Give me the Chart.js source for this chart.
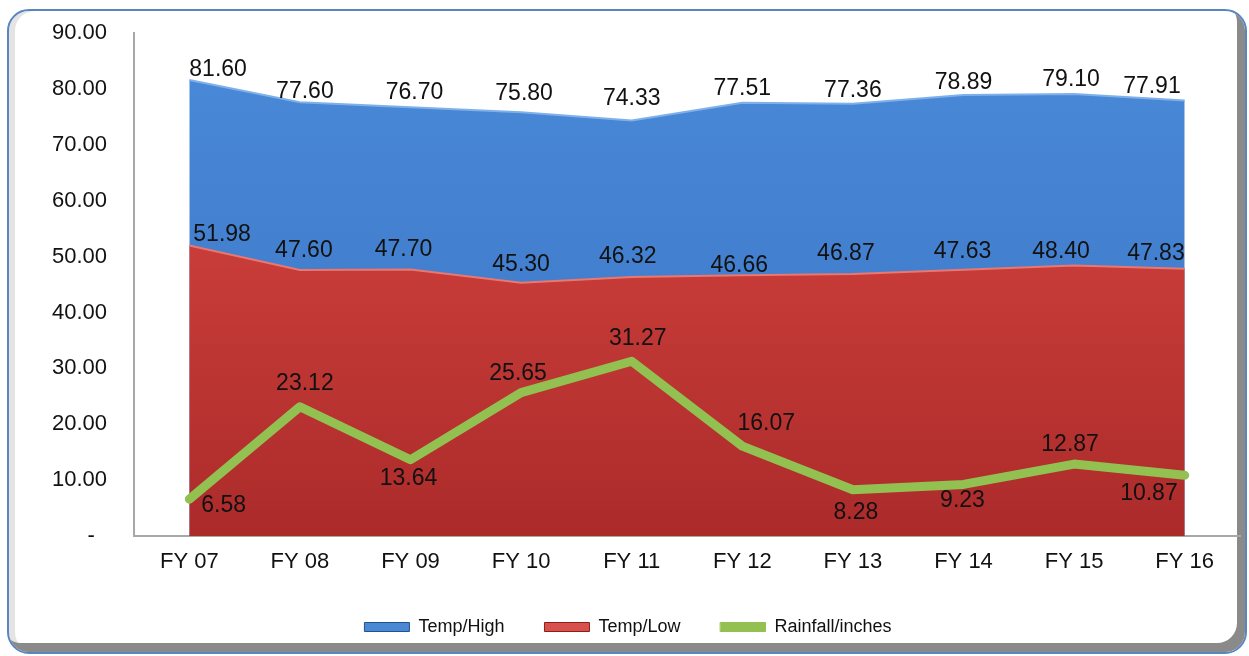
<!DOCTYPE html>
<html>
<head>
<meta charset="utf-8">
<title>Temperature and Rainfall</title>
<script src="https://cdn.jsdelivr.net/npm/chart.js@4.4.1/dist/chart.umd.min.js"></script>
<style>
    body { margin: 0; background: #ffffff; }
    #wrap { position: relative; width: 1249px; height: 656px; overflow: hidden; }
    #frame {
        position: absolute; left: 7px; top: 9px; width: 1236px; height: 641px;
        border: 2px solid #5a86c0; border-radius: 22px; background: #ffffff;
        box-shadow: inset -8px -9px 0 0 #8a8a8a, inset 6px 0 0 0 #e4e4e4;
    }
    #weatherChart { position: absolute; left: 0; top: 0; }
</style>
</head>
<body>
<div id="wrap">
    <div id="frame"></div>
    <canvas id="weatherChart" width="1249" height="656"></canvas>
</div>
<script>
// ข้อมูลกราฟ
const categories = ['FY 07', 'FY 08', 'FY 09', 'FY 10', 'FY 11', 'FY 12', 'FY 13', 'FY 14', 'FY 15', 'FY 16'];
const tempHigh = [81.60, 77.60, 76.70, 75.80, 74.33, 77.51, 77.36, 78.89, 79.10, 77.91];
const tempLow = [51.98, 47.60, 47.70, 45.30, 46.32, 46.66, 46.87, 47.63, 48.40, 47.83];
const rainfall = [6.58, 23.12, 13.64, 25.65, 31.27, 16.07, 8.28, 9.23, 12.87, 10.87];

// label placement (dx, dy in px) per dataset, same order as datasets
const labelShift = [
    [[0, -10], [5, -11], [4, -15], [3, -19], [0, -22], [0, -14], [0, -13], [0, -12], [-3, -14], [-4, -14]],
    [[4, -11], [4, -19], [-7, -20], [0, -18], [-4, -20], [-3, -10], [-7, -20], [-1, -18], [-13, -14], [0, -15]],
    [[12, 6], [5, -23], [-2, 19], [-3, -19], [6, -23], [24, -23], [3, 23], [-1, 16], [-4, -19], [-7, 18]]
];

const legendFill = ['#4a88d4', '#d8504b', '#92c152'];
const legendStroke = ['#24528f', '#8c1f1c', '#92c152'];

const FONT = "Arial, 'Liberation Sans', sans-serif";

function vGradient(context, top, bottom) {
    const area = context.chart.chartArea;
    if (!area) return top;
    const g = context.chart.ctx.createLinearGradient(0, area.top, 0, area.bottom);
    g.addColorStop(0, top);
    g.addColorStop(1, bottom);
    return g;
}

const valueLabels = {
    id: 'valueLabels',
    afterDatasetsDraw(chart) {
        const ctx = chart.ctx;
        ctx.save();
        ctx.font = '23px ' + FONT;
        ctx.fillStyle = '#111111';
        ctx.textBaseline = 'middle';
        chart.data.datasets.forEach((ds, di) => {
            const meta = chart.getDatasetMeta(di);
            const last = meta.data.length - 1;
            meta.data.forEach((pt, i) => {
                const s = labelShift[di][i];
                ctx.textAlign = i === 0 ? 'left' : (i === last ? 'right' : 'center');
                ctx.fillText(ds.data[i].toFixed(2), pt.x + s[0], pt.y + s[1]);
            });
        });
        ctx.restore();
    }
};

// legend sits a bit right of centre in the original
const legendNudge = {
    id: 'legendNudge',
    afterLayout(chart) {
        if (chart.legend) {
            chart.legend.left += 8;
            chart.legend.right += 8;
        }
    }
};

let ctx = document.getElementById('weatherChart').getContext('2d');
window.weatherChart = new Chart(ctx, {
    type: 'line',
    data: {
        labels: categories,
        datasets: [
            {
                label: 'Temp/High',
                data: tempHigh,
                order: 3,
                fill: 'origin',
                backgroundColor: c => vGradient(c, '#4a8ad8', '#3a74c4'),
                borderColor: '#7fb0ea',
                borderWidth: 2,
                pointRadius: 0,
                tension: 0
            },
            {
                label: 'Temp/Low',
                data: tempLow,
                order: 2,
                fill: 'origin',
                backgroundColor: c => vGradient(c, '#df4a44', '#ab2b2a'),
                borderColor: '#ea7770',
                borderWidth: 2,
                pointRadius: 0,
                tension: 0
            },
            {
                label: 'Rainfall/inches',
                data: rainfall,
                order: 1,
                fill: false,
                borderColor: '#92c152',
                backgroundColor: '#92c152',
                borderWidth: 9,
                borderCapStyle: 'round',
                borderJoinStyle: 'round',
                pointRadius: 0,
                tension: 0
            }
        ]
    },
    options: {
        responsive: false,
        animation: false,
        events: [],
        layout: { padding: { top: 33, right: 9, bottom: 18, left: 0 } },
        scales: {
            x: {
                offset: true,
                grid: { display: false, drawTicks: false },
                border: { color: '#a8a8a8', width: 2 },
                ticks: { color: '#111111', font: { family: FONT, size: 22 }, padding: 13, maxRotation: 0 },
                afterFit(scale) { scale.height = 42; }
            },
            y: {
                min: 0,
                max: 90,
                grid: { display: false, drawTicks: false },
                border: { color: '#a8a8a8', width: 2 },
                ticks: {
                    stepSize: 10,
                    color: '#111111',
                    font: { family: FONT, size: 22 },
                    padding: 27,
                    callback: v => v === 0 ? '-  ' : v.toFixed(2)
                },
                afterFit(scale) {
                    scale.width = 134;
                    scale.paddingTop = 0;
                    scale.paddingBottom = 0;
                }
            }
        },
        plugins: {
            tooltip: { enabled: false },
            legend: {
                position: 'bottom',
                maxHeight: 60,
                labels: {
                    color: '#111111',
                    font: { family: FONT, size: 18 },
                    boxWidth: 45,
                    boxHeight: 9,
                    padding: 40,
                    sort: (a, b) => a.datasetIndex - b.datasetIndex,
                    generateLabels: chart => Chart.defaults.plugins.legend.labels.generateLabels(chart).map(item => ({
                        ...item,
                        fillStyle: legendFill[item.datasetIndex],
                        strokeStyle: legendStroke[item.datasetIndex],
                        lineWidth: 1
                    }))
                }
            }
        }
    },
    plugins: [valueLabels, legendNudge]
});
</script>
</body>
</html>
